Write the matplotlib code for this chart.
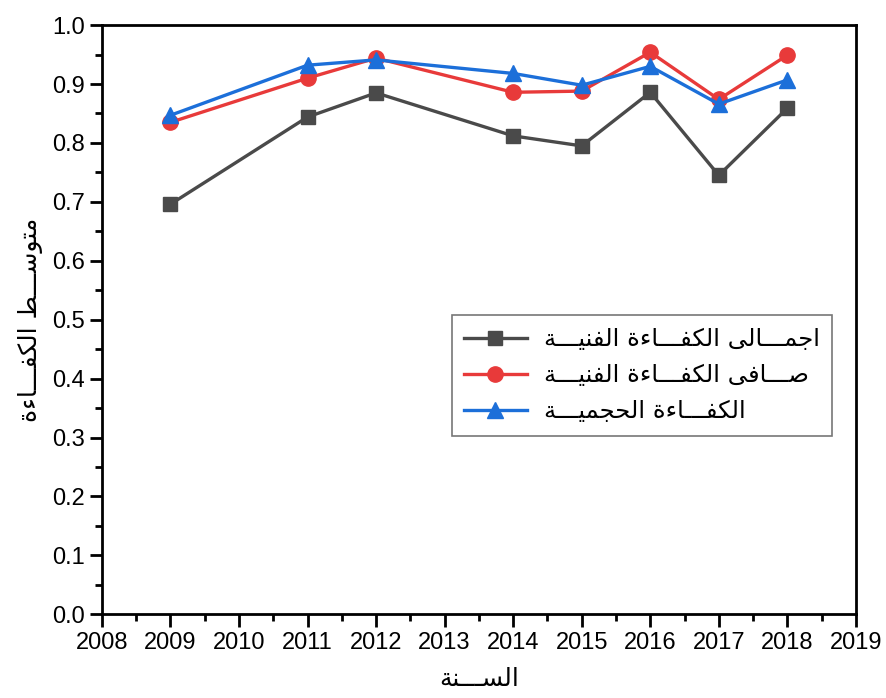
import numpy as np
import matplotlib
matplotlib.use("Agg")
import matplotlib.pyplot as plt
from matplotlib.ticker import MultipleLocator

# Data
years = [2009, 2011, 2012, 2014, 2015, 2016, 2017, 2018]
gross_te = [0.696, 0.844, 0.885, 0.812, 0.795, 0.886, 0.745, 0.859]
pure_te = [0.835, 0.910, 0.944, 0.886, 0.888, 0.954, 0.874, 0.949]
scale_eff = [0.847, 0.932, 0.941, 0.918, 0.898, 0.930, 0.866, 0.907]

labels = ["اجمـــالى الكفـــاءة الفنيـــة",
          "صـــافى الكفـــاءة الفنيـــة",
          "الكفـــاءة الحجميـــة"]
xlabel = "الســـنة"
ylabel = "متوســـط الكفـــاءة"

# Arabic shaping by hand (matplotlib has no shaping engine)
# letter: (isolated, final, initial, medial)
FORMS = {
    "ء": ("\uFE80", None, None, None),
    "ا": ("\uFE8D", "\uFE8E", None, None),
    "ة": ("\uFE93", "\uFE94", None, None),
    "ت": ("\uFE95", "\uFE96", "\uFE97", "\uFE98"),
    "ج": ("\uFE9D", "\uFE9E", "\uFE9F", "\uFEA0"),
    "ح": ("\uFEA1", "\uFEA2", "\uFEA3", "\uFEA4"),
    "س": ("\uFEB1", "\uFEB2", "\uFEB3", "\uFEB4"),
    "ص": ("\uFEB9", "\uFEBA", "\uFEBB", "\uFEBC"),
    "ط": ("\uFEC1", "\uFEC2", "\uFEC3", "\uFEC4"),
    "ف": ("\uFED1", "\uFED2", "\uFED3", "\uFED4"),
    "ك": ("\uFED9", "\uFEDA", "\uFEDB", "\uFEDC"),
    "ل": ("\uFEDD", "\uFEDE", "\uFEDF", "\uFEE0"),
    "م": ("\uFEE1", "\uFEE2", "\uFEE3", "\uFEE4"),
    "ن": ("\uFEE5", "\uFEE6", "\uFEE7", "\uFEE8"),
    "و": ("\uFEED", "\uFEEE", None, None),
    "ى": ("\uFEEF", "\uFEF0", "\uFBE8", "\uFBE9"),
    "ي": ("\uFEF1", "\uFEF2", "\uFEF3", "\uFEF4"),
}
TATWEEL = "\u0640"


def joins_forward(c):
    return c == TATWEEL or (c in FORMS and FORMS[c][2] is not None)


def joins_back(c):
    return c == TATWEEL or (c in FORMS and FORMS[c][1] is not None)


def shape(text):
    out = []
    for i, c in enumerate(text):
        if c not in FORMS:
            out.append(c)
            continue
        prev = text[i - 1] if i > 0 else " "
        nxt = text[i + 1] if i < len(text) - 1 else " "
        back = joins_forward(prev) and joins_back(c)
        fwd = joins_forward(c) and joins_back(nxt)
        iso, fin, ini, med = FORMS[c]
        if back and fwd:
            out.append(med)
        elif back:
            out.append(fin)
        elif fwd:
            out.append(ini)
        else:
            out.append(iso)
    return "".join(out)[::-1]


plt.rcParams['font.family'] = ['Liberation Sans', 'DejaVu Sans']

fig = plt.figure(figsize=(8.86, 6.98), dpi=100)
ax = fig.add_axes([0.115, 0.12, 0.851, 0.844])

ax.plot(years, gross_te, color='#4a4a4a', lw=2.4, marker='s', ms=10,
        label=shape(labels[0]))
ax.plot(years, pure_te, color='#e83a3a', lw=2.4, marker='o', ms=11,
        label=shape(labels[1]))
ax.plot(years, scale_eff, color='#1c6fd9', lw=2.4, marker='^', ms=12,
        label=shape(labels[2]))

ax.set_xlim(2008, 2019)
ax.set_ylim(0, 1.0)
ax.xaxis.set_major_locator(MultipleLocator(1))
ax.xaxis.set_minor_locator(MultipleLocator(0.5))
ax.yaxis.set_major_locator(MultipleLocator(0.1))
ax.yaxis.set_minor_locator(MultipleLocator(0.05))
ax.yaxis.set_major_formatter(matplotlib.ticker.FormatStrFormatter('%.1f'))
ax.tick_params(which='major', direction='out', length=9, width=2, labelsize=17)
ax.tick_params(which='minor', direction='out', length=5, width=2)
for s in ax.spines.values():
    s.set_linewidth(2)

ax.set_xlabel(shape(xlabel), fontsize=18, family=['DejaVu Sans'], labelpad=10)
ax.set_ylabel(shape(ylabel), fontsize=18, family=['DejaVu Sans'], labelpad=6)

leg = ax.legend(loc='upper left', bbox_to_anchor=(0.464, 0.508),
                prop={'family': 'DejaVu Sans', 'size': 17.5},
                handlelength=2.6, handletextpad=0.7, fancybox=False,
                edgecolor='#555555', borderpad=0.5, labelspacing=0.5,
                borderaxespad=0)
leg.get_frame().set_linewidth(1.2)

fig.savefig("out.png", dpi=100)
